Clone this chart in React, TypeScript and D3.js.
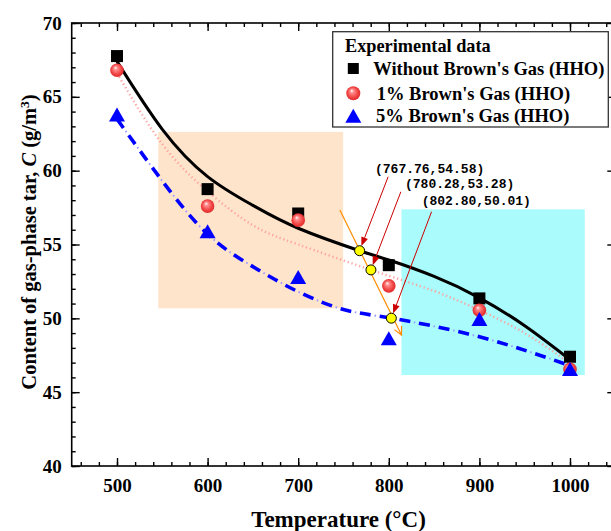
import React, { useEffect, useRef } from 'react';
import * as d3 from 'd3';

// Measured tar content (g/m3) at each gasification temperature (°C)
const temperatures = [500, 600, 700, 800, 900, 1000];
const tarWithoutHHO = [67.76, 58.75, 57.1, 53.6, 51.35, 47.4];
const tarHHO1 = [66.8, 57.6, 56.65, 52.2, 50.55, 46.55];
const tarHHO5 = [63.8, 55.9, 52.8, 48.65, 49.95, 46.57];

// Trend curves through each series (temperature nodes / content nodes)
const trendWithoutT = [500, 550, 600, 650, 700, 767.76, 800, 850, 900, 950, 1000];
const trendWithoutC = [67.4, 62.8, 59.6, 57.65, 56.1, 54.58, 53.95, 52.84, 51.39, 49.5, 47.2];
const trendHHO1T = [500, 550, 600, 650, 700, 780.28, 850, 900, 950, 1000];
const trendHHO1C = [66.6, 61.8, 58.6, 56.3, 55.0, 53.28, 51.85, 50.55, 49.0, 46.95];
const trendHHO5T = [500, 550, 600, 650, 700, 750, 802.8, 900, 1000];
const trendHHO5C = [63.5, 59.3, 55.7, 53.5, 51.8, 50.6, 50.01, 48.75, 46.8];

// Highlighted temperature windows: [T0, T1, C0, C1]
const warmWindow = [545.5, 749.6, 50.68, 62.63];
const hotWindow = [814, 1016.3, 46.16, 57.38];

// Cross-section line and the intersection points it marks
const sectionLineT = [746, 814];
const sectionLineC = [57.33, 48.87];
const crossT = [767.76, 780.28, 802.8];
const crossC = [54.58, 53.28, 50.01];
const crossLabels = ['(767.76,54.58)', '(780.28,53.28)', '(802.80,50.01)'];
const crossLabelT = [784.8, 817.9, 836.3];
const crossLabelC = [59.82, 58.84, 57.67];
const crossArrowT = [799.3, 813.3, 847.2];
const crossArrowC = [59.59, 58.57, 57.22];

// Axis ticks
const xMajorTicks = [500, 600, 700, 800, 900, 1000];
const xMinorTicks = d3.range(460, 1050, 20);
const yMajorTicks = [40, 45, 50, 55, 60, 65, 70];
const yMinorTicks = d3.range(40, 71, 1);

const legendTitle = 'Experimental data';
const seriesNames = ["Without Brown's Gas (HHO)", "1% Brown's Gas (HHO)", "5% Brown's Gas (HHO)"];

const W = 611;
const H = 531;
const left = 71.7;
const right = 615.3;
const top = 23;
const bottom = 466;

const serif = '"Liberation Serif", "Times New Roman", serif';

const x = d3.scaleLinear().domain([450, 1050]).range([left, right]);
const y = d3.scaleLinear().domain([40, 70]).range([bottom, top]);

const trendLine = d3
  .line<[number, number]>()
  .x((d) => x(d[0]))
  .y((d) => y(d[1]))
  .curve(d3.curveNatural);

const zip = (a: number[], b: number[]) => a.map((v, i) => [v, b[i]] as [number, number]);

const trianglePath = (cx: number, cy: number, w: number, h: number) =>
  `M${cx},${cy - h / 2}L${cx + w / 2},${cy + h / 2}L${cx - w / 2},${cy + h / 2}Z`;

function Square({ cx, cy, s }: { cx: number; cy: number; s: number }) {
  return <rect x={cx - s / 2} y={cy - s / 2} width={s} height={s} fill="#000" />;
}

function Ball({ cx, cy, r }: { cx: number; cy: number; r: number }) {
  return <circle cx={cx} cy={cy} r={r} fill="url(#ballGrad)" />;
}

function Tri({ cx, cy }: { cx: number; cy: number }) {
  return <path d={trianglePath(cx, cy, 16, 14)} fill="#0000FF" />;
}

export default function App() {
  const axesRef = useRef<SVGGElement>(null);

  useEffect(() => {
    const g = d3.select(axesRef.current);
    g.selectAll('*').remove();

    const style = (sel: d3.Selection<SVGGElement, unknown, null, undefined>) => {
      sel.select('.domain').remove();
      sel.selectAll('line').attr('stroke', '#000').attr('stroke-width', 1.4);
      sel
        .selectAll('text')
        .attr('font-family', serif)
        .attr('font-weight', 'bold')
        .attr('font-size', 19)
        .attr('fill', '#000');
    };

    // bottom
    g.append('g')
      .attr('transform', `translate(0,${bottom})`)
      .call(d3.axisBottom(x).tickValues(xMinorTicks).tickSize(-4).tickFormat(() => ''))
      .call(style);
    g.append('g')
      .attr('transform', `translate(0,${bottom})`)
      .call(d3.axisBottom(x).tickValues(xMajorTicks).tickSize(-8).tickPadding(13).tickFormat(d3.format('d')))
      .call(style);
    // top
    g.append('g')
      .attr('transform', `translate(0,${top})`)
      .call(d3.axisTop(x).tickValues(xMinorTicks).tickSize(-4).tickFormat(() => ''))
      .call(style);
    g.append('g')
      .attr('transform', `translate(0,${top})`)
      .call(d3.axisTop(x).tickValues(xMajorTicks).tickSize(-8).tickFormat(() => ''))
      .call(style);
    // left
    g.append('g')
      .attr('transform', `translate(${left},0)`)
      .call(d3.axisLeft(y).tickValues(yMinorTicks).tickSize(-4).tickFormat(() => ''))
      .call(style);
    g.append('g')
      .attr('transform', `translate(${left},0)`)
      .call(d3.axisLeft(y).tickValues(yMajorTicks).tickSize(-8).tickPadding(10).tickFormat(d3.format('d')))
      .call(style);
    // right
    g.append('g')
      .attr('transform', `translate(${right},0)`)
      .call(d3.axisRight(y).tickValues(yMinorTicks).tickSize(-4).tickFormat(() => ''))
      .call(style);
    g.append('g')
      .attr('transform', `translate(${right},0)`)
      .call(d3.axisRight(y).tickValues(yMajorTicks).tickSize(-8).tickFormat(() => ''))
      .call(style);

    g.append('rect')
      .attr('x', left)
      .attr('y', top)
      .attr('width', right - left)
      .attr('height', bottom - top)
      .attr('fill', 'none')
      .attr('stroke', '#000')
      .attr('stroke-width', 1.6);
  }, []);

  const crossPts = crossT.map((t, i) => [x(t), y(crossC[i])]);
  const arrowSegs = crossT.map((t, i) => {
    const x0 = x(crossArrowT[i]);
    const y0 = y(crossArrowC[i]);
    const x1 = x(t);
    const y1 = y(crossC[i]);
    const len = Math.hypot(x1 - x0, y1 - y0);
    const ux = (x1 - x0) / len;
    const uy = (y1 - y0) / len;
    const tipX = x1 - ux * 5;
    const tipY = y1 - uy * 5;
    const headL = 9;
    const headW = 3.5;
    const bx = tipX - ux * headL;
    const by = tipY - uy * headL;
    return {
      line: `M${x0},${y0}L${bx},${by}`,
      head: `M${tipX},${tipY}L${bx - uy * headW},${by + ux * headW}L${bx + uy * headW},${by - ux * headW}Z`,
    };
  });

  // orange section line with open arrow head at the lower end
  const sx0 = x(sectionLineT[0]);
  const sy0 = y(sectionLineC[0]);
  const sx1 = x(sectionLineT[1]);
  const sy1 = y(sectionLineC[1]);
  const sl = Math.hypot(sx1 - sx0, sy1 - sy0);
  const sux = (sx1 - sx0) / sl;
  const suy = (sy1 - sy0) / sl;
  const sbx = sx1 - sux * 8;
  const sby = sy1 - suy * 8;
  const sectionHead = `M${sbx - suy * 4},${sby + sux * 4}L${sx1},${sy1}L${sbx + suy * 4},${sby - sux * 4}`;

  const legX = 332.7;
  const legY = 31.7;

  return (
    <svg
      width={W}
      height={H}
      viewBox={`0 0 ${W} ${H}`}
      style={{ position: 'absolute', left: 0, top: 0, background: '#fff' }}
    >
      <defs>
        <radialGradient id="ballGrad" cx="0.5" cy="0.5" r="0.55" fx="0.38" fy="0.3">
          <stop offset="0" stopColor="#FFFFFF" />
          <stop offset="0.25" stopColor="#FF8A8A" />
          <stop offset="0.7" stopColor="#F04040" />
          <stop offset="1" stopColor="#D82828" />
        </radialGradient>
        <clipPath id="plotClip">
          <rect x={left} y={top} width={right - left} height={bottom - top} />
        </clipPath>
      </defs>
      <rect x={0} y={0} width={W} height={H} fill="#fff" />

      {/* highlighted windows */}
      <rect
        x={x(warmWindow[0])}
        y={y(warmWindow[3])}
        width={x(warmWindow[1]) - x(warmWindow[0])}
        height={y(warmWindow[2]) - y(warmWindow[3])}
        fill="#FFE4CC"
      />
      <rect
        x={x(hotWindow[0])}
        y={y(hotWindow[3])}
        width={x(hotWindow[1]) - x(hotWindow[0])}
        height={y(hotWindow[2]) - y(hotWindow[3])}
        fill="#AAFBFB"
      />

      {/* trend curves */}
      <g clipPath="url(#plotClip)">
        <path
          d={trendLine(zip(trendHHO1T, trendHHO1C)) || ''}
          fill="none"
          stroke="#FF9C9C"
          strokeOpacity={0.9}
          strokeWidth={2.4}
          strokeDasharray="1.3 2.7"
        />
        <path
          d={trendLine(zip(trendHHO5T, trendHHO5C)) || ''}
          fill="none"
          stroke="#0000FF"
          strokeWidth={3.6}
          strokeDasharray="11 9"
        />
        <path
          d={trendLine(zip(trendHHO5T, trendHHO5C)) || ''}
          fill="none"
          stroke="#9A9AFF"
          strokeWidth={2}
          strokeDasharray="1.5 18.5"
          strokeDashoffset={-14.75}
        />
        <path
          d={trendLine(zip(trendWithoutT, trendWithoutC)) || ''}
          fill="none"
          stroke="#000"
          strokeWidth={3}
        />
      </g>

      {/* measured points */}
      {temperatures.map((t, i) => (
        <Square key={`s${t}`} cx={x(t)} cy={y(tarWithoutHHO[i])} s={12} />
      ))}
      {temperatures.map((t, i) => (
        <Ball key={`b${t}`} cx={x(t)} cy={y(tarHHO1[i])} r={6.8} />
      ))}
      {temperatures.map((t, i) => (
        <Tri key={`t${t}`} cx={x(t)} cy={y(tarHHO5[i])} />
      ))}

      {/* cross-section line */}
      <path d={`M${sx0},${sy0}L${sx1},${sy1}`} stroke="#FF8C00" strokeWidth={1.2} fill="none" />
      <path d={sectionHead} stroke="#FF8C00" strokeWidth={1.2} fill="none" />

      {/* annotation arrows */}
      {arrowSegs.map((a, i) => (
        <g key={`a${i}`}>
          <path d={a.line} stroke="#CC0000" strokeWidth={1} fill="none" />
          <path d={a.head} fill="#CC0000" />
        </g>
      ))}
      {crossPts.map((p, i) => (
        <circle key={`c${i}`} cx={p[0]} cy={p[1]} r={5} fill="#FFFF00" stroke="#000" strokeWidth={1} />
      ))}
      {crossLabels.map((s, i) => (
        <text
          key={`l${i}`}
          x={x(crossLabelT[i])}
          y={y(crossLabelC[i])}
          fontFamily='"Liberation Mono", monospace'
          fontWeight="bold"
          fontSize={13}
          fill="#000"
        >
          {s}
        </text>
      ))}

      <g ref={axesRef} />

      {/* legend */}
      <g>
        <rect x={legX} y={legY} width={608.3 - legX} height={127 - legY} fill="#fff" stroke="#333" strokeWidth={1.3} />
        <text x={345} y={51.7} fontFamily={serif} fontWeight="bold" fontSize={18.3} fill="#000">
          {legendTitle}
        </text>
        <Square cx={353.3} cy={68.5} s={11} />
        <text x={373.3} y={75} fontFamily={serif} fontWeight="bold" fontSize={18.5} fill="#000">
          {seriesNames[0]}
        </text>
        <Ball cx={353.3} cy={93.3} r={7} />
        <text x={376.7} y={99.5} fontFamily={serif} fontWeight="bold" fontSize={18.5} fill="#000">
          {seriesNames[1]}
        </text>
        <path d={trianglePath(353.3, 115.7, 16, 14)} fill="#0000FF" />
        <text x={376} y={121.5} fontFamily={serif} fontWeight="bold" fontSize={18.5} fill="#000">
          {seriesNames[2]}
        </text>
      </g>

      {/* axis titles */}
      <text
        x={(left + right) / 2 - 5}
        y={527}
        textAnchor="middle"
        fontFamily={serif}
        fontWeight="bold"
        fontSize={23}
        fill="#000"
      >
        Temperature (°C)
      </text>
      <text
        transform={`translate(36,242) rotate(-90)`}
        textAnchor="middle"
        fontFamily={serif}
        fontWeight="bold"
        fontSize={20.5}
        fill="#000"
      >
        Content of gas-phase tar, <tspan fontStyle="italic">C</tspan> (g/m
        <tspan baselineShift="super" fontSize={13.5}>
          3
        </tspan>
        )
      </text>
    </svg>
  );
}
